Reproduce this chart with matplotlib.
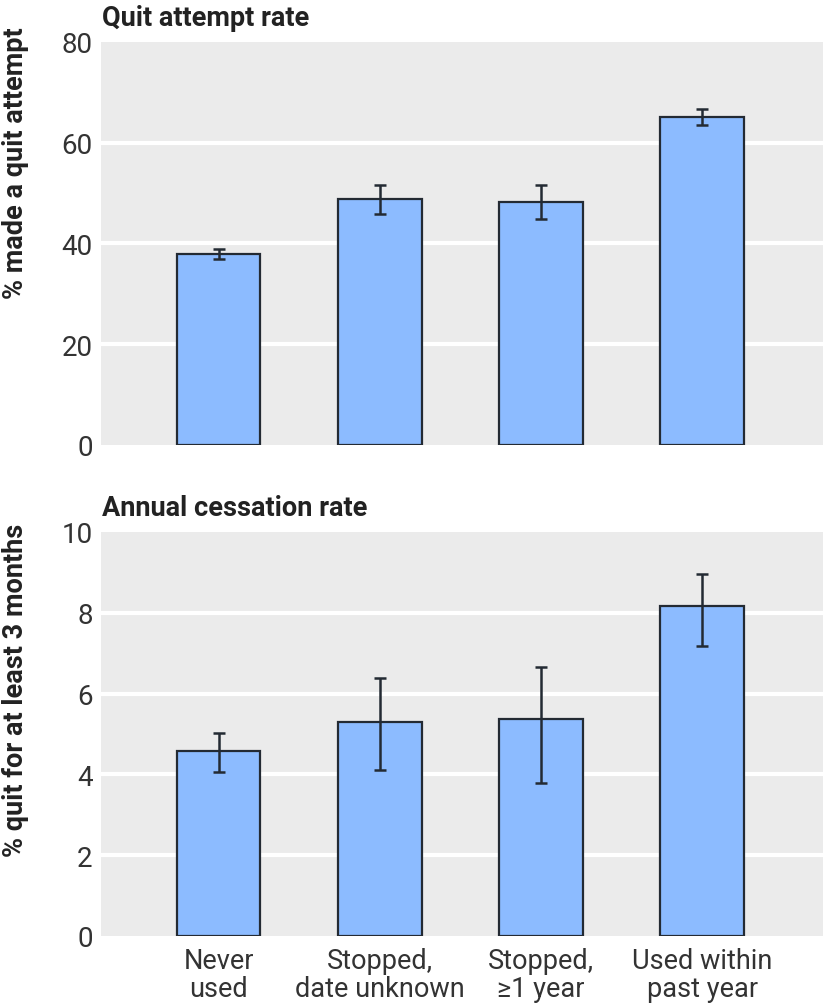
import matplotlib
matplotlib.use("Agg")
import matplotlib.pyplot as plt
import numpy as np

categories = ["Never\nused", "Stopped,\ndate unknown", "Stopped,\n≥1 year", "Used within\npast year"]

quit_attempt = [37.8, 48.8, 48.3, 65.0]
quit_attempt_lo = [36.8, 45.9, 44.9, 63.4]
quit_attempt_hi = [38.8, 51.5, 51.5, 66.6]

cessation = [4.59, 5.30, 5.38, 8.18]
cessation_lo = [4.07, 4.12, 3.78, 7.17]
cessation_hi = [5.02, 6.39, 6.67, 8.97]

top_ticks = [0, 20, 40, 60, 80]
bot_ticks = [0, 2, 4, 6, 8, 10]

FONT = ["Roboto", "DejaVu Sans"]
plt.rcParams['font.family'] = FONT

W, H = 824, 1004
fig = plt.figure(figsize=(W / 100, H / 100), dpi=100)

BG = "#EBEBEB"
BAR = "#8CBBFF"
EDGE = "#232a33"
TXT = "#333333"

def make_ax(top_px, bot_px):
    return fig.add_axes([101 / W, 1 - bot_px / H, 722 / W, (bot_px - top_px) / H])

def draw(ax, vals, lo, hi, ticks, show_x):
    x = np.arange(len(vals))
    vals = np.array(vals)
    err = [vals - np.array(lo), np.array(hi) - vals]
    ax.set_facecolor(BG)
    for t in ticks[1:-1]:
        ax.axhline(t, color="white", lw=3, zorder=1)
    ax.bar(x, vals, width=0.518, color=BAR, edgecolor=EDGE, linewidth=1.6, zorder=2)
    ax.errorbar(x, vals, yerr=err, fmt='none', ecolor=EDGE, elinewidth=1.8,
                capsize=4, capthick=1.8, zorder=3)
    ax.set_xlim(-0.73, 3.75)
    ax.set_ylim(ticks[0], ticks[-1])
    ax.set_yticks(ticks)
    ax.set_yticklabels([str(t) for t in ticks], fontsize=20, color=TXT)
    ax.tick_params(axis='y', length=0, pad=6)
    ax.tick_params(axis='x', length=0, pad=8)
    for s in ax.spines.values():
        s.set_visible(False)
    ax.set_xticks(x)
    if show_x:
        ax.set_xticklabels(categories, fontsize=19.5, color=TXT, linespacing=1.05)
    else:
        ax.set_xticklabels([])

ax1 = make_ax(42.7, 446)
draw(ax1, quit_attempt, quit_attempt_lo, quit_attempt_hi, top_ticks, False)
ax2 = make_ax(533, 937)
draw(ax2, cessation, cessation_lo, cessation_hi, bot_ticks, True)

fig.text(102 / W, 1 - 26 / H, "Quit attempt rate", fontsize=19.5, fontweight="bold",
         color="#222222", va="baseline", ha="left")
fig.text(102 / W, 1 - 516 / H, "Annual cessation rate", fontsize=19.5, fontweight="bold",
         color="#222222", va="baseline", ha="left")

fig.text(16 / W, 1 - 163 / H, "% made a quit attempt", fontsize=19.5, fontweight="bold",
         color="#222222", rotation=90, ha="center", va="center")
fig.text(16 / W, 1 - 690 / H, "% quit for at least 3 months", fontsize=19.5, fontweight="bold",
         color="#222222", rotation=90, ha="center", va="center")

fig.savefig("out.png", dpi=100, facecolor="white")
